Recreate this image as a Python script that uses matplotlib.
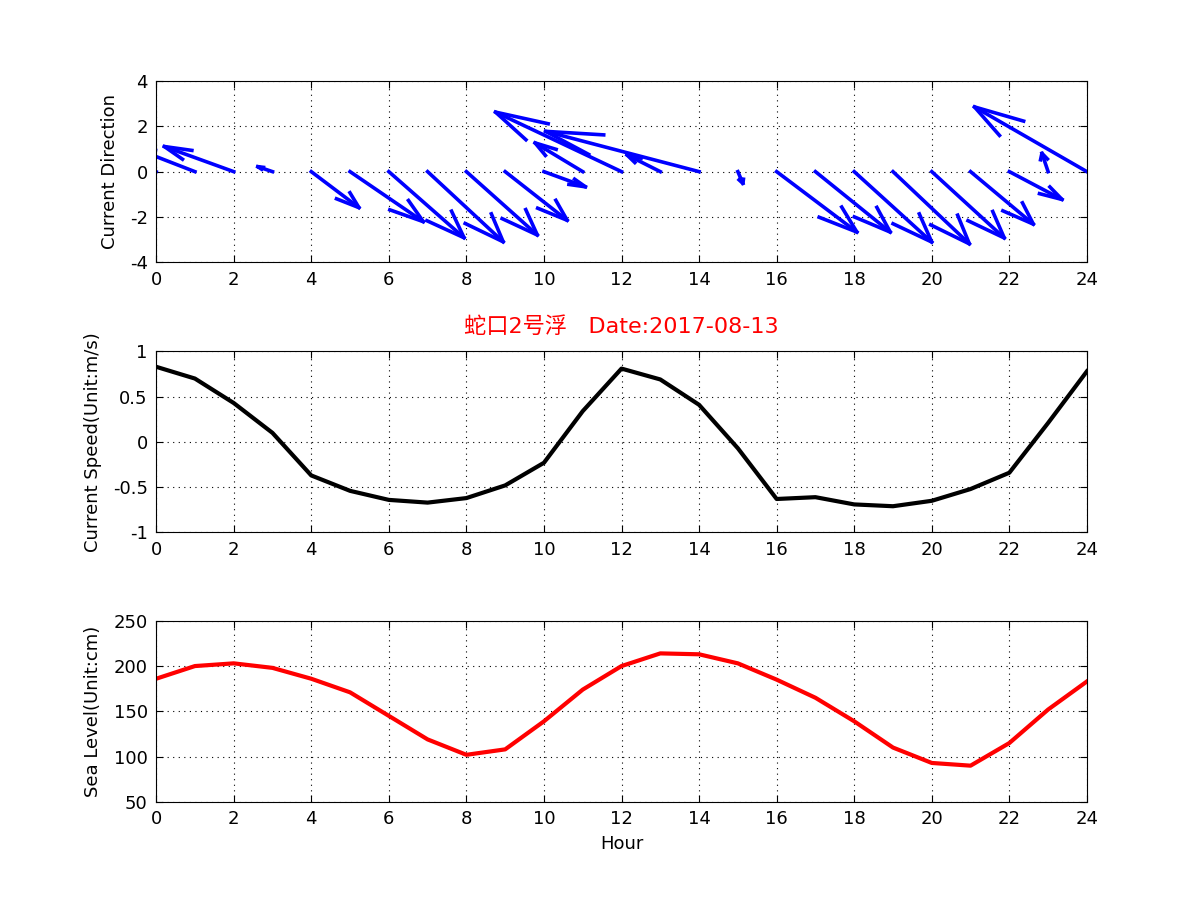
import numpy as np
import matplotlib
matplotlib.use("Agg")
import matplotlib.pyplot as plt
from matplotlib.ticker import FormatStrFormatter

hours = np.arange(25)
# current vectors as drawn (u = east, v = north), one per hour
dir_u = [-3.10, -1.70, -1.79, -0.38, 1.23, 1.89, 1.94, 1.95, 1.83, 1.60, 1.07, -1.23, -3.25,
         -0.86, -3.96, 0.13, 2.07, 1.93, 2.00, 1.97, 1.87, 1.62, 1.36, -0.16, -2.90]
dir_v = [2.80, 1.13, 1.11, 0.22, -1.59, -2.21, -2.92, -3.10, -2.80, -2.15, -0.67, 1.27, 2.63,
         0.74, 1.78, -0.52, -2.67, -2.67, -3.11, -3.19, -2.93, -2.32, -1.23, 0.81, 2.86]
speed = [0.83, 0.70, 0.43, 0.10, -0.37, -0.54, -0.64, -0.67, -0.62, -0.48, -0.23, 0.34, 0.81,
         0.69, 0.41, -0.07, -0.63, -0.61, -0.69, -0.71, -0.65, -0.52, -0.34, 0.21, 0.78]
level = [186, 200, 203, 198, 186, 171, 145, 119, 102, 108, 139, 174, 200,
         214, 213, 203, 185, 165, 139, 110, 93, 90, 115, 152, 183]

plt.rcParams["font.family"] = ["DejaVu Sans", "Noto Sans CJK SC"]
plt.rcParams["axes.unicode_minus"] = False
plt.rcParams["font.size"] = 13

fig = plt.figure(figsize=(12.01, 9.01), dpi=100)
fig.patch.set_facecolor("white")
ax1 = fig.add_axes([0.13, 0.709, 0.775, 0.201])
ax2 = fig.add_axes([0.13, 0.409, 0.775, 0.201])
ax3 = fig.add_axes([0.13, 0.110, 0.775, 0.201])

# matlab-style quiver: shaft + open head
alpha = beta = 0.33
for x, u, v in zip(hours, dir_u, dir_v):
    tx, ty = x + u, v
    ax1.plot([x, tx], [0, ty], color="#0000ff", lw=2.6)
    hx = [tx - alpha * (u + beta * v), tx, tx - alpha * (u - beta * v)]
    hy = [ty - alpha * (v - beta * u), ty, ty - alpha * (v + beta * u)]
    ax1.plot(hx, hy, color="#0000ff", lw=2.6)
ax1.set_ylim(-4, 4)
ax1.set_yticks([-4, -2, 0, 2, 4])
ax1.set_ylabel("Current Direction", labelpad=8)

ax2.plot(hours, speed, color="black", lw=3)
ax2.set_ylim(-1, 1)
ax2.set_yticks([-1, -0.5, 0, 0.5, 1])
ax2.set_ylabel("Current Speed(Unit:m/s)", labelpad=8)
ax2.set_title("蛇口2号浮   Date:2017-08-13", color="red", fontsize=16, pad=13)

ax3.plot(hours, level, color="red", lw=3)
ax3.set_ylim(50, 250)
ax3.set_yticks([50, 100, 150, 200, 250])
ax3.set_ylabel("Sea Level(Unit:cm)", labelpad=8)
ax3.set_xlabel("Hour", labelpad=5)

for ax in (ax1, ax2, ax3):
    ax.set_xlim(0, 24)
    ax.set_xticks(np.arange(0, 25, 2))
    ax.yaxis.set_major_formatter(FormatStrFormatter("%g"))
    ax.grid(True, color="black", lw=0.8, linestyle=(0, (1, 4)))
    ax.tick_params(direction="in", top=True, right=True, length=5, width=0.8,
                   labelsize=13, pad=6)
    for s in ax.spines.values():
        s.set_linewidth(0.8)

fig.savefig("out.png", dpi=100, facecolor="white")
